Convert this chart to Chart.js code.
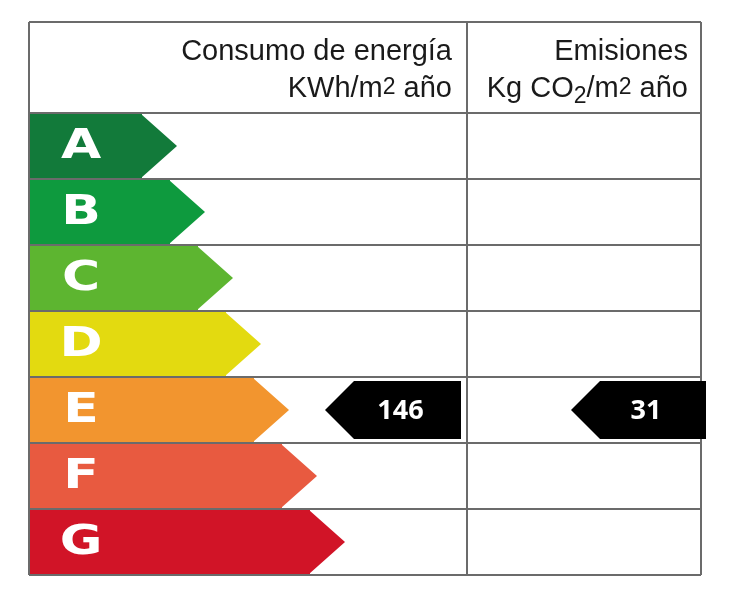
<!DOCTYPE html>
<html>
<head>
<meta charset="utf-8">
<script src="https://cdn.jsdelivr.net/npm/chart.js@4/dist/chart.umd.min.js"></script>
<style>
  body { margin: 0; background: #fff; }
  #wrap { width: 749px; height: 600px; }
</style>
</head>
<body>
<div id="wrap"><canvas id="label"></canvas></div>
<script>
// energy classes and arrow body lengths (x units = px inside the table)
const classes = ["A", "B", "C", "D", "E", "F", "G"];
const arrowLengths = [113, 141, 169, 197, 225, 253, 281];
const classColors = ["#127a3a", "#0e9a3e", "#5db530", "#e3da10", "#f2952f", "#e85a40", "#d11427"];

// rating results
const consumoClass = "E";
const consumoValue = 146;
const emisionesClass = "E";
const emisionesValue = 31;

const TIP = 35;
const GRID = "#6b6b6b";

const labelPlugin = {
    id: "labelPlugin",
    afterDatasetsDraw(chart) {
        const ctx = chart.ctx;
        const x = chart.scales.x;
        const y = chart.scales.y;
        const bars = chart.getDatasetMeta(0).data;
        const left = x.getPixelForValue(0);
        const right = x.getPixelForValue(672);
        const mid = x.getPixelForValue(438);
        const rowH = (y.bottom - y.top) / classes.length;

        // arrow tips and letters
        bars.forEach((bar, i) => {
            const h = bar.height;
            ctx.fillStyle = classColors[i];
            ctx.beginPath();
            ctx.moveTo(bar.x - 1, bar.y - h / 2);
            ctx.lineTo(bar.x + TIP, bar.y);
            ctx.lineTo(bar.x - 1, bar.y + h / 2);
            ctx.closePath();
            ctx.fill();
            ctx.save();
            ctx.fillStyle = "#fff";
            ctx.font = "600 40px 'DejaVu Sans'";
            ctx.textAlign = "center";
            ctx.textBaseline = "middle";
            ctx.translate(left + 52, bar.y + 2);
            ctx.scale(1.3, 1);
            ctx.fillText(classes[i], 0, 0);
            ctx.restore();
        });

        // grid
        ctx.strokeStyle = GRID;
        ctx.lineWidth = 2;
        ctx.beginPath();
        ctx.moveTo(left, 22); ctx.lineTo(right, 22);
        for (let i = 0; i <= classes.length; i++) {
            const yy = y.top + i * rowH;
            ctx.moveTo(left, yy); ctx.lineTo(right, yy);
        }
        ctx.moveTo(left, 22); ctx.lineTo(left, y.bottom);
        ctx.moveTo(mid, 22); ctx.lineTo(mid, y.bottom);
        ctx.moveTo(right, 22); ctx.lineTo(right, y.bottom);
        ctx.stroke();

        // header texts
        ctx.fillStyle = "#1a1a1a";
        ctx.textBaseline = "alphabetic";
        const big = "29px 'Liberation Sans'";
        const small = "23px 'Liberation Sans'";
        function drawParts(parts, xRight, base) {
            let w = 0;
            parts.forEach(p => { ctx.font = p[1]; w += ctx.measureText(p[0]).width; });
            let cx = xRight - w;
            ctx.textAlign = "left";
            parts.forEach(p => {
                ctx.font = p[1];
                ctx.fillText(p[0], cx, base + p[2]);
                cx += ctx.measureText(p[0]).width;
            });
        }
        drawParts([["Consumo de energía", big, 0]], 452, 60);
        drawParts([["KWh/m", big, 0], ["2", small, -3], [" año", big, 0]], 452, 97);
        drawParts([["Emisiones", big, 0]], 688, 60);
        drawParts([["Kg CO", big, 0], ["2", small, 6], ["/m", big, 0], ["2", small, -3], [" año", big, 0]], 688, 97);

        // rating markers
        function marker(cls, value, xRightVal, width) {
            const cy = y.getPixelForValue(classes.indexOf(cls));
            const r = x.getPixelForValue(xRightVal);
            const l = r - width;
            const hh = 29;
            ctx.fillStyle = "#000";
            ctx.beginPath();
            ctx.moveTo(l, cy);
            ctx.lineTo(l + 29, cy - hh);
            ctx.lineTo(r, cy - hh);
            ctx.lineTo(r, cy + hh);
            ctx.lineTo(l + 29, cy + hh);
            ctx.closePath();
            ctx.fill();
            ctx.fillStyle = "#fff";
            ctx.font = "bold 27px 'Open Sans'";
            ctx.textAlign = "center";
            ctx.textBaseline = "middle";
            ctx.fillText(String(value), (l + 29 + r) / 2 - 7, cy + 1);
        }
        marker(consumoClass, consumoValue, 432, 136);
        marker(emisionesClass, emisionesValue, 677, 135);
    }
};

new Chart(document.getElementById("label"), {
    type: "bar",
    data: {
        labels: classes,
        datasets: [{
            data: arrowLengths,
            backgroundColor: classColors,
            borderWidth: 0,
            categoryPercentage: 1,
            barPercentage: 0.97
        }]
    },
    options: {
        indexAxis: "y",
        responsive: true,
        maintainAspectRatio: false,
        animation: false,
        layout: { padding: { left: 29, right: 48, top: 113, bottom: 25 } },
        plugins: { legend: { display: false }, tooltip: { enabled: false } },
        scales: {
            x: { display: false, min: 0, max: 672 },
            y: { display: false }
        }
    },
    plugins: [labelPlugin]
});
</script>
</body>
</html>
